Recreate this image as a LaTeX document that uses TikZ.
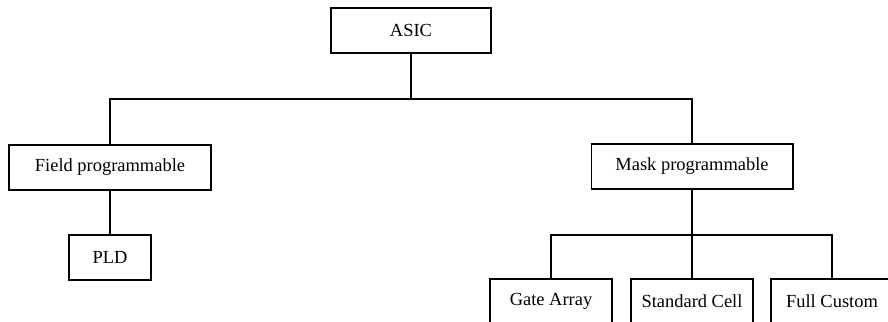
\documentclass[tikz,border=0pt]{standalone}
\usepackage{fontspec}
\setmainfont{Liberation Serif}
\usetikzlibrary{positioning}
\tikzset{
    block/.style={rectangle, draw, line width=0.6pt, minimum height=0.9cm, inner sep=2pt, font=\fontsize{10.5}{12}\selectfont},
    wide/.style={block, minimum width=4.04cm},
    small/.style={block, minimum width=1.64cm},
    leaf/.style={block, minimum width=2.44cm},
    link/.style={draw, line width=0.6pt}
}
\begin{document}
\begin{tikzpicture}[x=0.02cm, y=-0.02cm]
    \useasboundingbox (0,0) rectangle (888,321);
    \clip (0,0) rectangle (888,321);
    % Nodes
    \node[block, minimum width=3.2cm] (asic) at (411,30.5) {ASIC};
    \node[wide] (field) at (110,167.5) {Field programmable};
    \node[small] (pld) at (110,257.5) {PLD};
    \node[wide] (mask) at (692,166.5) {Mask programmable};
    \node[leaf] (gate) at (551,301.5) {Gate Array};
    \node[leaf] (standard) at (692,301.5) {Standard Cell};
    \node[leaf] (full) at (832,301.5) {Full Custom};
    \coordinate (top) at (411,99);
    \coordinate (mid) at (692,235);

    % edges
    \draw[link] (asic) -- (top);
    \draw[link] (field.north) |- (top) -| (mask.north);
    \draw[link] (field) -- (pld);
    \draw[link] (mask) -- (standard);
    \draw[link] (gate.north) |- (mid) -| (full.north);
\end{tikzpicture}
\end{document}
